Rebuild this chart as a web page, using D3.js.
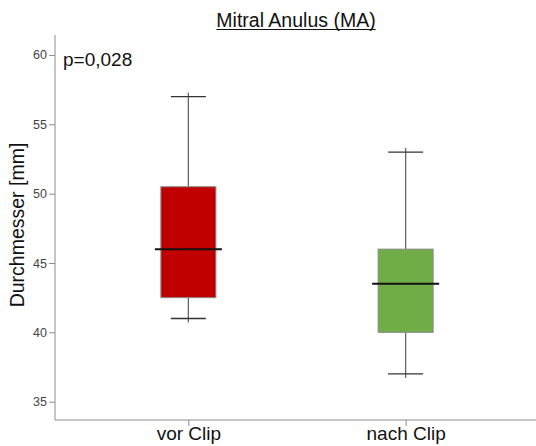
<!DOCTYPE html>
<html>
<head>
<meta charset="utf-8">
<script src="https://cdn.jsdelivr.net/npm/d3@7"></script>
<style>
  html, body { margin: 0; padding: 0; background: #fff; }
  svg { display: block; font-family: "Liberation Sans", Arial, sans-serif; }
</style>
</head>
<body>
<svg id="chart" width="536" height="446"></svg>
<script>
// Boxplot summary per group (mm)
const groups = ["vor Clip", "nach Clip"];
const whiskerLow = [41, 37];
const q1 = [42.5, 40];
const median = [46, 43.5];
const q3 = [50.5, 46];
const whiskerHigh = [57, 53];
const boxColors = ["#C00000", "#70AD47"];
const yTicks = [35, 40, 45, 50, 55, 60];
const titleText = "Mitral Anulus (MA)";
const yLabel = "Durchmesser [mm]";
const pText = "p=0,028";

const svg = d3.select("#chart");

const plot = { left: 55, right: 536, top: 35, bottom: 420 };

const y = d3.scaleLinear().domain([33.68, 61.44]).range([plot.bottom, plot.top]);
const x = d3.scalePoint().domain(groups).range([58, 536]).padding(0.6);

const boxW = 55, capW = 35, medExtra = 6;
const axisColor = "#8c8c8c";

// Y axis
const yAxis = svg.append("g")
  .attr("transform", `translate(${plot.left},0)`)
  .call(d3.axisLeft(y).tickValues(yTicks).tickSize(6).tickSizeOuter(0).tickPadding(2));
yAxis.select(".domain").attr("d", `M0,${plot.top}V${plot.bottom}`).attr("stroke", axisColor);
yAxis.selectAll(".tick line").attr("stroke", axisColor);
yAxis.selectAll(".tick text").attr("fill", "#444").style("font-size", "12.5px")
  .style("font-family", "'Liberation Sans', Arial, sans-serif");

// X axis
const xAxis = svg.append("g")
  .attr("transform", `translate(0,${plot.bottom})`)
  .call(d3.axisBottom(x).tickSize(6).tickSizeOuter(0).tickPadding(1));
xAxis.select(".domain").attr("d", `M${plot.left},0H${plot.right}`).attr("stroke", axisColor);
xAxis.selectAll(".tick line").attr("stroke", axisColor);
xAxis.selectAll(".tick text").attr("fill", "#111").style("font-size", "19px")
  .style("font-family", "'Liberation Sans', Arial, sans-serif");

// Boxes
const idx = groups.map((g, i) => i);
const bx = svg.append("g");

// whisker stems
bx.selectAll("line.stem-top").data(idx).join("line")
  .attr("x1", i => x(groups[i])).attr("x2", i => x(groups[i]))
  .attr("y1", i => y(whiskerHigh[i]) - 4).attr("y2", i => y(q3[i]))
  .attr("stroke", "#666").attr("stroke-width", 1.3);
bx.selectAll("line.stem-bot").data(idx).join("line")
  .attr("x1", i => x(groups[i])).attr("x2", i => x(groups[i]))
  .attr("y1", i => y(q1[i])).attr("y2", i => y(whiskerLow[i]) + 4)
  .attr("stroke", "#666").attr("stroke-width", 1.3);

// whisker caps
bx.selectAll("line.cap-top").data(idx).join("line")
  .attr("x1", i => x(groups[i]) - capW / 2).attr("x2", i => x(groups[i]) + capW / 2)
  .attr("y1", i => y(whiskerHigh[i])).attr("y2", i => y(whiskerHigh[i]))
  .attr("stroke", "#333").attr("stroke-width", 1.3);
bx.selectAll("line.cap-bot").data(idx).join("line")
  .attr("x1", i => x(groups[i]) - capW / 2).attr("x2", i => x(groups[i]) + capW / 2)
  .attr("y1", i => y(whiskerLow[i])).attr("y2", i => y(whiskerLow[i]))
  .attr("stroke", "#333").attr("stroke-width", 1.3);

// interquartile boxes
bx.selectAll("rect.box").data(idx).join("rect")
  .attr("x", i => x(groups[i]) - boxW / 2)
  .attr("width", boxW)
  .attr("y", i => y(q3[i]))
  .attr("height", i => y(q1[i]) - y(q3[i]))
  .attr("fill", i => boxColors[i])
  .attr("stroke", "#8a8a8a").attr("stroke-width", 1);

// medians
bx.selectAll("line.med").data(idx).join("line")
  .attr("x1", i => x(groups[i]) - boxW / 2 - medExtra)
  .attr("x2", i => x(groups[i]) + boxW / 2 + medExtra)
  .attr("y1", i => y(median[i])).attr("y2", i => y(median[i]))
  .attr("stroke", "#111").attr("stroke-width", 2);

// Title with underline
const title = svg.append("text")
  .attr("x", 296).attr("y", 26.5)
  .attr("text-anchor", "middle")
  .style("font-size", "19.5px").attr("fill", "#111")
  .text(titleText);
const tb = title.node().getBBox();
svg.append("line")
  .attr("x1", tb.x).attr("x2", tb.x + tb.width)
  .attr("y1", 29.5).attr("y2", 29.5)
  .attr("stroke", "#111").attr("stroke-width", 1.2);

// p-value
svg.append("text")
  .attr("x", 63).attr("y", 66)
  .style("font-size", "19px").attr("fill", "#111")
  .text(pText);

// Y axis label
svg.append("text")
  .attr("transform", `translate(24,225) rotate(-90)`)
  .attr("text-anchor", "middle")
  .style("font-size", "19.5px").attr("fill", "#111")
  .text(yLabel);
</script>
</body>
</html>
